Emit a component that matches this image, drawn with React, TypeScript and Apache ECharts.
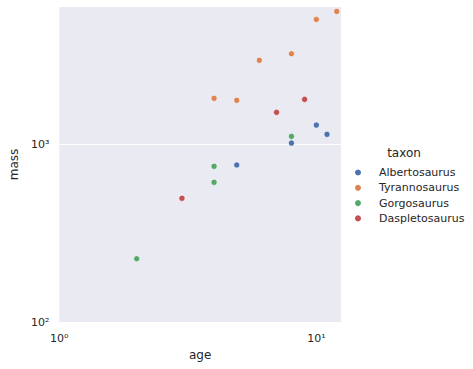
import React, { useEffect, useRef } from "react";
import * as echarts from "echarts";

const taxa = ["Albertosaurus", "Tyrannosaurus", "Gorgosaurus", "Daspletosaurus"];
const colors = ["#4c72b0", "#dd8452", "#55a868", "#c44e52"];

const albertosaurusAge = [4.9, 8, 10, 11];
const albertosaurusMass = [765, 1017, 1284, 1138];
const tyrannosaurusAge = [4, 4.9, 6, 8, 10, 12];
const tyrannosaurusMass = [1815, 1770, 2972, 3236, 5046, 5598];
const gorgosaurusAge = [2, 4, 4, 8];
const gorgosaurusMass = [227, 752, 611, 1109];
const daspletosaurusAge = [3, 7, 9];
const daspletosaurusMass = [497, 1514, 1791];

const ages = [albertosaurusAge, tyrannosaurusAge, gorgosaurusAge, daspletosaurusAge];
const masses = [albertosaurusMass, tyrannosaurusMass, gorgosaurusMass, daspletosaurusMass];

const sup: Record<string, string> = { "0": "⁰", "1": "¹", "2": "²", "3": "³", "4": "⁴", "-": "⁻" };
function powLabel(v: number): string {
  const e = Math.log10(v);
  const r = Math.round(e);
  if (Math.abs(e - r) > 1e-6) return "";
  return "10" + String(r).split("").map((c) => sup[c] ?? c).join("");
}

const FONT = "DejaVu Sans";
const TXT = "#262626";

export default function App() {
  const ref = useRef<HTMLDivElement>(null);
  useEffect(() => {
    document.body.style.margin = "0";
    if (!ref.current) return;
    const chart = echarts.init(ref.current, undefined, { renderer: "svg" });
    chart.setOption({
      animation: false,
      textStyle: { fontFamily: FONT },
      grid: {
        left: 55,
        top: 7,
        right: 132,
        bottom: 47,
        show: true,
        backgroundColor: "#eaeaf2",
        borderWidth: 0,
      },
      xAxis: {
        type: "log",
        logBase: 10,
        min: 1,
        max: 12.47,
        name: "age",
        nameLocation: "middle",
        nameGap: 25,
        nameTextStyle: { color: TXT, fontSize: 12, fontFamily: FONT },
        axisLine: { show: false },
        axisTick: { show: false },
        splitLine: { show: false },
        minorTick: { show: false },
        axisLabel: {
          color: TXT,
          fontSize: 11,
          fontFamily: FONT,
          margin: 11,
          formatter: (v: number) => powLabel(v),
        },
      },
      yAxis: {
        type: "log",
        logBase: 10,
        min: 100,
        max: 5930,
        name: "mass",
        nameLocation: "middle",
        nameGap: 37,
        nameRotate: 90,
        nameTextStyle: { color: TXT, fontSize: 12, fontFamily: FONT },
        axisLine: { show: false },
        axisTick: { show: false },
        splitLine: {
          show: true,
          showMinLine: false,
          showMaxLine: false,
          lineStyle: { color: "#ffffff", width: 1 },
        },
        axisLabel: {
          color: TXT,
          fontSize: 11,
          fontFamily: FONT,
          margin: 10,
          formatter: (v: number) => powLabel(v),
        },
      },
      legend: {
        orient: "vertical",
        left: 348,
        top: 160,
        icon: "circle",
        itemWidth: 8,
        itemHeight: 8,
        itemGap: 0.3,
        data: taxa,
        textStyle: {
          color: TXT,
          fontSize: 11,
          fontFamily: FONT,
          lineHeight: 15,
          padding: [0, 0, 0, 12],
        },
      },
      graphic: [
        {
          type: "text",
          x: 404,
          y: 153,
          style: {
            text: "taxon",
            fill: TXT,
            font: `12px "${FONT}"`,
            textAlign: "center",
            textVerticalAlign: "middle",
          },
        },
      ],
      series: taxa.map((t, i) => ({
        name: t,
        type: "scatter",
        symbol: "circle",
        symbolSize: 6,
        itemStyle: { color: colors[i], borderColor: "#ffffff", borderWidth: 0.5, opacity: 1 },
        data: ages[i].map((a, j) => [a, masses[i][j]]),
      })),
    });
    return () => chart.dispose();
  }, []);
  return <div ref={ref} style={{ width: 473, height: 369 }} />;
}
